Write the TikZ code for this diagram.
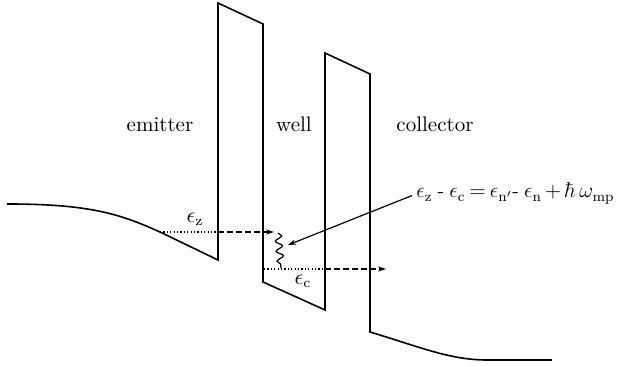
\documentclass[tikz,border=0pt]{standalone}
\usepackage{graphicx}
\usetikzlibrary{arrows.meta,decorations.pathmorphing}
\begin{document}
\begin{tikzpicture}[x=0.5pt,y=-0.5pt,
  band/.style={line width=0.8pt, line join=miter},
  dotline/.style={line width=0.6pt, dash pattern=on 0.6pt off 1.1pt},
  dashline/.style={line width=0.6pt, dash pattern=on 3pt off 1.5pt},
  tip/.style={-{Stealth[length=4pt,width=2.6pt]}},
  lbl/.style={font=\fontsize{10.5}{12}\selectfont, inner sep=0pt}]
\useasboundingbox (0,0) rectangle (618,367);
% band profile
\draw[band] (7,204) .. controls (90,204) and (120,214) .. (160,232) -- (218,260)
  -- (218,3) -- (263,24) -- (263,282) -- (325,310) -- (325,53) -- (370,74)
  -- (370,332) .. controls (420,347) and (450,360) .. (487,360) -- (552,360);
% labels
\node[lbl, anchor=base] (em) at (160,132) {emitter};
\node[lbl, anchor=base] (wl) at (294,132) {well};
\node[lbl, anchor=base] (col) at (435,132) {collector};
\node[lbl] (ez) at (195,219) {$\epsilon_{\mathrm z}$};
\node[lbl] (ec) at (303,281) {$\epsilon_{\mathrm c}$};
\node[lbl, anchor=base west] (eq) at (416,198)
  {\resizebox{99pt}{!}{\fontsize{11.5}{13}\selectfont\thickmuskip=3.5mu\medmuskip=2.5mu
   $\epsilon_{\mathrm z}$\hspace{0.25em}-\hspace{0.25em}$\epsilon_{\mathrm c} = \epsilon_{\mathrm{n'}}$-\hspace{0.25em}$\epsilon_{\mathrm n} + \hbar\,\omega_{\mathrm{mp}}$}};
% coordinates
\coordinate (ezs) at (160,232);
\coordinate (ezb) at (218,232);
\coordinate (eze) at (274,232);
\coordinate (ecs) at (264,269);
\coordinate (ecb) at (325,269);
\coordinate (ece) at (386,269);
\coordinate (wtop) at (278,233);
\coordinate (wbot) at (281,268);
\coordinate (ph) at (288,245);
% transitions
\draw[dotline] (ezs) -- (ezb);
\draw[dashline, tip] (ezb) -- (eze);
\draw[dotline] (ecs) -- (ecb);
\draw[dashline, tip] (ecb) -- (ece);
\draw[line width=0.6pt, decorate, decoration={snake, amplitude=1.7pt, segment length=5pt}] (wtop) -- (wbot);
\draw[line width=0.6pt, tip] ([xshift=-2pt,yshift=-1pt]eq.west) -- (ph);
\end{tikzpicture}
\end{document}
